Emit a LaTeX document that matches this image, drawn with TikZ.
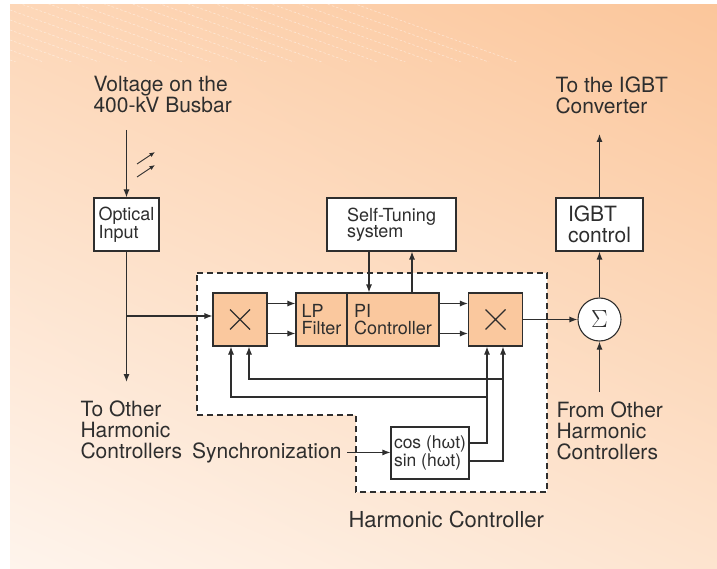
\documentclass[tikz,border=0pt]{standalone}
\usepackage{fontspec}
\setmainfont{TeX Gyre Heros}
\newfontfamily\greekfont{Liberation Sans}
\usetikzlibrary{arrows.meta, shadings}

\definecolor{panelTL}{HTML}{FDD7B8}
\definecolor{panelTR}{HTML}{FBC69B}
\definecolor{panelBL}{HTML}{FEF4EC}
\definecolor{panelBR}{HTML}{FDE4CF}
\definecolor{blockfill}{HTML}{FAC89E}
\definecolor{ink}{HTML}{2E2E2E}

\newcommand{\bigfont}{\fontsize{21}{21}\selectfont}
\newcommand{\boxfont}{\fontsize{18}{16.5}\selectfont}

\begin{document}
\begin{tikzpicture}[
		x=1pt, y=-1pt, color=ink, line width=1.1pt,
		blk/.style={draw, fill=white, line width=1.1pt, align=left, inner sep=2pt, font=\boxfont, minimum height=53pt},
		mult/.style={draw, fill=blockfill, line width=1.1pt, minimum width=54pt, minimum height=53pt,
			path picture={
				\draw[line width=1.3pt] ([shift={(-10pt,-10pt)}]path picture bounding box.center) -- ([shift={(10pt,10pt)}]path picture bounding box.center)
				([shift={(-10pt,10pt)}]path picture bounding box.center) -- ([shift={(10pt,-10pt)}]path picture bounding box.center);
		}},
		sig/.style={circle, draw, fill=white, line width=1.1pt, minimum size=43pt, inner sep=0pt, font=\fontsize{25}{25}\selectfont},
		lbl/.style={align=left, font=\bigfont, inner sep=0pt, anchor=north west},
		arr/.style={-{Latex[length=8pt,width=6pt]}},
		texture/.style={white, opacity=0.45, line width=0.6pt, dash pattern=on 2.5pt off 2pt}
		]
		\useasboundingbox (0,0) rectangle (717,569);
		
		% Background panel
		\shade[upper left=panelTL, upper right=panelTR, lower left=panelBL, lower right=panelBR] (10,5) rectangle (717,569);
		\begin{scope}
			\clip (10,5) rectangle (717,62);
			\foreach \k in {0,...,30} {
				\draw[texture] (10,-120+10*\k) -- ++(707,254);
			}
		\end{scope}
		
		% Harmonic controller region
		\draw[fill=white, line width=1.1pt, dash pattern=on 6pt off 4pt]
		(197,273) -- (547,273) -- (547,492) -- (356,492) -- (356,415) -- (197,415) -- cycle;
		\node[anchor=base west, inner sep=0pt, font=\fontsize{22}{22}\selectfont] (hclbl) at (348,527) {Harmonic Controller};
		
		% Blocks
		\node[blk, minimum width=65pt] (optic) at (126.5,224.5) {Optical\\Input};
		\node[blk, minimum width=129pt] (tune) at (391.5,224.5) {Self-Tuning\\system};
		\node[blk, font=\bigfont, minimum width=87pt] (igbt) at (599.5,224.5) {IGBT\\control};
		\node[mult] (mulA) at (240,319.5) {};
		\node[blk, fill=blockfill, minimum width=51pt] (lp) at (321.5,319.5) {LP\\Filter};
		\node[blk, fill=blockfill, minimum width=92pt] (pi) at (393,319.5) {PI\\Controller};
		\node[mult] (mulB) at (495.5,319.5) {};
		\node[sig] (sum) at (599.5,319.5) {$\Sigma$};
		\node[blk, font=\fontsize{17.5}{18}\selectfont, inner sep=1pt, minimum width=78pt, minimum height=52pt] (trig) at (430,453)
		{cos (h{\greekfont ω}t)\\sin (h{\greekfont ω}t)};
		
		% Outer labels
		\node[lbl] (volt) at (93,76) {Voltage on the\\400-kV Busbar};
		\node[lbl] (conv) at (555,76) {To the IGBT\\Converter};
		\node[lbl] (others) at (80,400) {To Other\\Harmonic\\Controllers};
		\node[lbl] (fromothers) at (556,401) {From Other\\Harmonic\\Controllers};
		\node[anchor=base east, inner sep=0pt, font=\bigfont] (sync) at (342,458) {Synchronization};
		
		% Free ends and rails
		\coordinate (voltIn) at (126.5,130);
		\coordinate (toOther) at (126.5,382);
		\coordinate (tap) at (126.5,316);
		\coordinate (toConv) at (599.5,134);
		\coordinate (fromOther) at (599.5,392);
		\coordinate (railOut) at (0,397);
		\coordinate (railIn) at (0,379);
		\coordinate (inA1) at ([xshift=-9pt]mulA.south);
		\coordinate (inA2) at ([xshift=9pt]mulA.south);
		\coordinate (inB1) at ([xshift=-8.5pt]mulB.south);
		\coordinate (inB2) at ([xshift=7.5pt]mulB.south);
		
		% Optical input
		\draw[arr] (voltIn) -- (optic.north);
		\foreach \dy in {0,13} {
			\draw[-{Latex[length=5.5pt,width=4.5pt]}, line width=0.9pt] (137,164+\dy) -- ++(18,-12);
		}
		\draw[arr] (optic.south) -- (toOther);
		\draw[arr] (tap) -- (tap -| mulA.west);
		
		% Main chain
		\foreach \dy in {16,-14} {
			\draw[arr] ([yshift=\dy pt]mulA.east) -- ([yshift=\dy pt]lp.west);
			\draw[arr] ([yshift=\dy pt]pi.east) -- ([yshift=\dy pt]mulB.west);
		}
		\draw[arr] (mulB) -- (sum);
		\draw[arr] (sum) -- (igbt);
		\draw[arr] (igbt) -- (toConv);
		\draw[arr] (fromOther) -- (sum);
		
		% Self-tuning loop
		\draw[arr] ([xshift=-22.5pt]tune.south) -- ([xshift=-22.5pt]tune.south |- pi.north);
		\draw[arr] ([xshift=20.5pt]tune.south |- pi.north) -- ([xshift=20.5pt]tune.south);
		
		% Synchronization and feedback
		\draw[arr] ([xshift=5pt]sync.east) -- (sync.east -| trig.west);
		\draw[arr] ([yshift=10pt]trig.east) -| (inB1);
		\draw[arr] ([yshift=-8pt]trig.east) -| (inB2);
		\draw[arr] (inB1 |- railOut) -| (inA1);
		\draw[arr] (inB2 |- railIn) -| (inA2);
		
	\end{tikzpicture}
\end{document}
